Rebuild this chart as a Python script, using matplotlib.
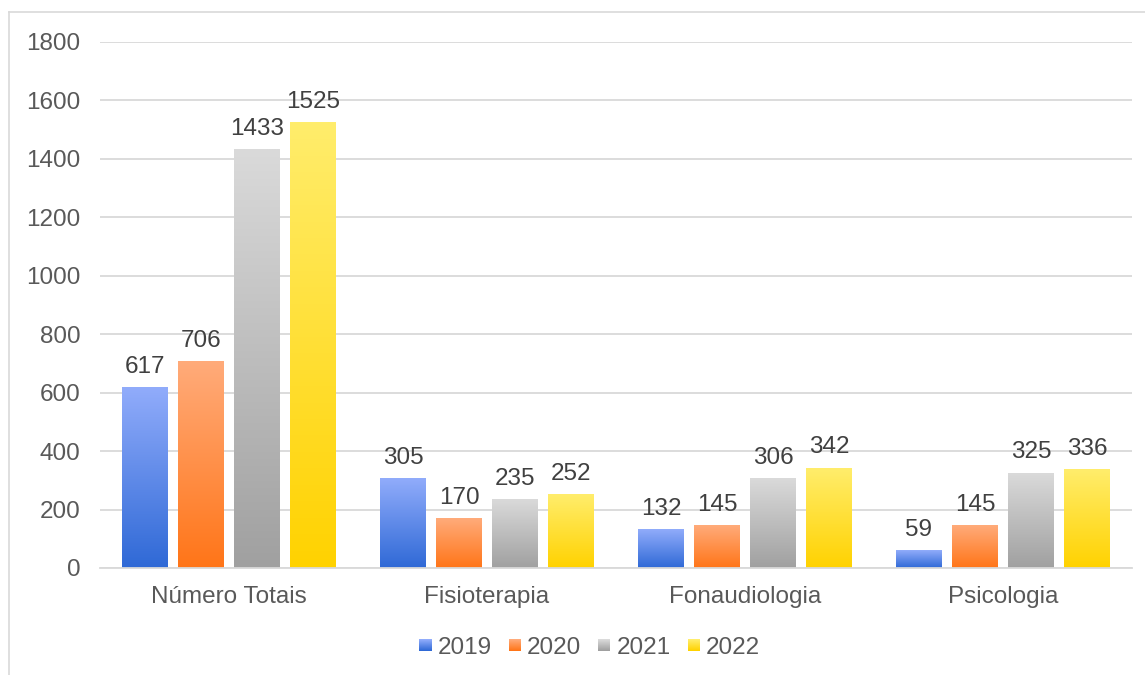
import numpy as np
import matplotlib
matplotlib.use("Agg")
import matplotlib.pyplot as plt
from matplotlib.colors import LinearSegmentedColormap
from matplotlib.legend_handler import HandlerBase
from matplotlib.patches import Rectangle
from matplotlib.lines import Line2D

plt.rcParams["font.family"] = ["Liberation Sans", "DejaVu Sans"]

categories = ["Número Totais", "Fisioterapia", "Fonaudiologia", "Psicologia"]
years = ["2019", "2020", "2021", "2022"]
v2019 = [617, 305, 132, 59]
v2020 = [706, 170, 145, 145]
v2021 = [1433, 235, 306, 325]
v2022 = [1525, 252, 342, 336]
series = [v2019, v2020, v2021, v2022]

# (top, bottom) gradient colours per year
GRADS = [("#91acfb", "#2f69d6"),
         ("#ffab7a", "#ff7518"),
         ("#dadada", "#a0a0a0"),
         ("#ffed6c", "#ffd200")]

TICK_C = "#595959"
LABEL_C = "#404040"
GRID_C = "#d9d9d9"
FS = 17.5


class GradientHandler(HandlerBase):
    def __init__(self, top, bottom, n=12):
        super().__init__()
        self.cmap = LinearSegmentedColormap.from_list("g", [bottom, top])
        self.n = n

    def create_artists(self, legend, orig_handle, xdescent, ydescent,
                       width, height, fontsize, trans):
        side = min(width, height)
        x0 = -xdescent + (width - side) / 2
        y0 = -ydescent + (height - side) / 2
        arts = []
        for i in range(self.n):
            r = Rectangle((x0, y0 + side * i / self.n), side, side / self.n + 0.3,
                          facecolor=self.cmap(i / (self.n - 1)), edgecolor="none",
                          transform=trans)
            arts.append(r)
        return arts


fig = plt.figure(figsize=(11.45, 6.75), dpi=100)
ax = fig.add_axes([100 / 1145, 1 - 568 / 675, 1032 / 1145, (568 - 42) / 675])

x = np.arange(len(categories))
step = 56 / 258
width = 46 / 258
gradient = np.linspace(1, 0, 256).reshape(-1, 1)

handles = []
for k, (vals, (top, bot)) in enumerate(zip(series, GRADS)):
    cmap = LinearSegmentedColormap.from_list(f"c{k}", [bot, top])
    bars = ax.bar(x + (k - 1.5) * step, vals, width, color="none", zorder=2)
    for b, v in zip(bars, vals):
        ax.imshow(gradient, extent=[b.get_x(), b.get_x() + b.get_width(), 0, b.get_height()],
                  cmap=cmap, vmin=0, vmax=1, aspect="auto", zorder=2, interpolation="bilinear")
        ax.annotate(f"{v}", xy=(b.get_x() + b.get_width() / 2, b.get_height()),
                    xytext=(0, 7), textcoords="offset points", ha="center", va="bottom",
                    fontsize=FS, color=LABEL_C)
    handles.append(Rectangle((0, 0), 1, 1, label=years[k]))

ax.set_xlim(-0.5, len(categories) - 0.5)
ax.set_ylim(0, 1800)
ax.set_yticks(np.arange(0, 1801, 200))
ax.set_xticks(x)
ax.set_xticklabels(categories)
ax.tick_params(axis="y", length=0, pad=14, labelsize=FS, labelcolor=TICK_C)
ax.tick_params(axis="x", length=0, pad=13, labelsize=FS, labelcolor=TICK_C)
ax.yaxis.grid(True, color=GRID_C, lw=1.3)
ax.set_axisbelow(True)
for s in ["top", "right", "left"]:
    ax.spines[s].set_visible(False)
ax.spines["bottom"].set_color(GRID_C)
ax.spines["bottom"].set_linewidth(1.3)
ax.spines["bottom"].set_zorder(3)

hmap = {h: GradientHandler(t, b) for h, (t, b) in zip(handles, GRADS)}
fig.legend(handles=handles, loc="center", bbox_to_anchor=(0.515, 1 - 648 / 675),
           ncol=4, frameon=False, fontsize=FS, labelcolor=TICK_C,
           handlelength=0.5, handleheight=0.5, handletextpad=0.25,
           columnspacing=0.7, handler_map=hmap)

# outer chart frame (top and left edges visible)
fig.add_artist(Line2D([9 / 1145, 9 / 1145], [0, 1 - 12 / 675], color=GRID_C, lw=1.2))
fig.add_artist(Line2D([9 / 1145, 1], [1 - 12 / 675, 1 - 12 / 675], color=GRID_C, lw=1.2))

fig.savefig("out.png", dpi=100)
